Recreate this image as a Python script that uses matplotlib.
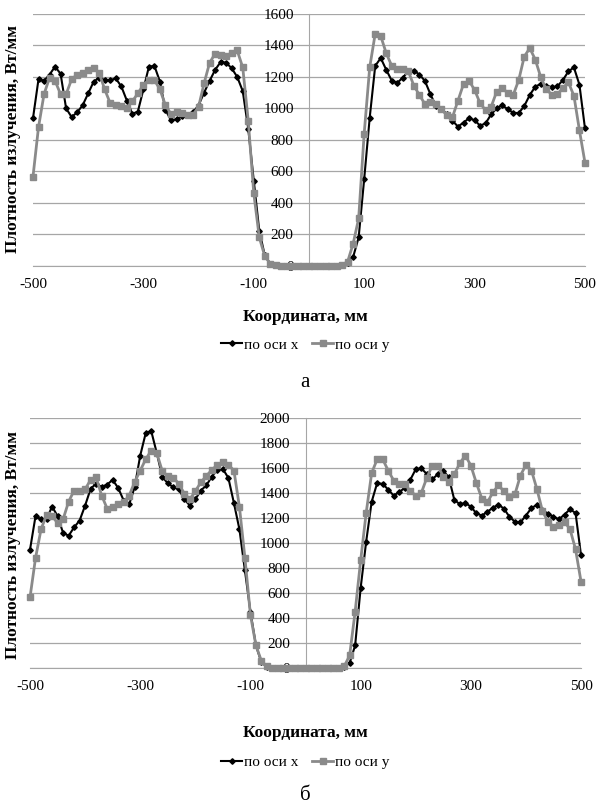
import matplotlib
matplotlib.use('Agg')
import matplotlib.pyplot as plt
from matplotlib.lines import Line2D

plt.rcParams['font.family'] = ['Liberation Serif', 'DejaVu Serif']

# coordinate, mm
coord = [-500, -490, -480, -470, -460, -450, -440, -430, -420, -410,
         -400, -390, -380, -370, -360, -350, -340, -330, -320, -310,
         -300, -290, -280, -270, -260, -250, -240, -230, -220, -210,
         -200, -190, -180, -170, -160, -150, -140, -130, -120, -110,
         -100, -90, -80, -70, -60, -50, -40, -30, -20, -10,
         0, 10, 20, 30, 40, 50, 60, 70, 80, 90,
         100, 110, 120, 130, 140, 150, 160, 170, 180, 190,
         200, 210, 220, 230, 240, 250, 260, 270, 280, 290,
         300, 310, 320, 330, 340, 350, 360, 370, 380, 390,
         400, 410, 420, 430, 440, 450, 460, 470, 480, 490,
         500]

# panel a
a_x = [937, 1185, 1175, 1215, 1265, 1220, 1000, 945, 975, 1020,
       1095, 1170, 1195, 1180, 1180, 1190, 1140, 1050, 965, 980,
       1120, 1265, 1270, 1170, 990, 925, 930, 950, 960, 975,
       1020, 1100, 1175, 1245, 1295, 1290, 1255, 1200, 1110, 870,
       540, 220, 65, 12, 3, 0, 0, 0, 0, 0,
       0, 0, 0, 0, 0, 0, 2, 14, 55, 180,
       550, 940, 1270, 1320, 1245, 1176, 1163, 1195, 1237, 1240,
       1215, 1175, 1090, 1015, 995, 964, 921, 884, 910, 937,
       925, 890, 905, 962, 1000, 1020, 995, 972, 970, 1015,
       1085, 1138, 1156, 1145, 1134, 1140, 1180, 1235, 1260, 1150,
       873]
a_y = [566, 880, 1090, 1195, 1175, 1090, 1090, 1185, 1215, 1227,
       1242, 1258, 1225, 1120, 1032, 1020, 1013, 1005, 1045, 1095,
       1150, 1180, 1180, 1120, 1020, 965, 975, 970, 958, 960,
       1010, 1160, 1290, 1348, 1339, 1335, 1352, 1368, 1260, 920,
       460, 180, 60, 12, 3, 0, 0, 0, 0, 0,
       0, 0, 0, 0, 0, 0, 5, 25, 140, 300,
       840, 1260, 1475, 1460, 1350, 1270, 1248, 1248, 1235, 1145,
       1085, 1028, 1040, 1025, 995, 955, 945, 1050, 1155, 1175,
       1118, 1032, 988, 1010, 1106, 1127, 1100, 1085, 1180, 1329,
       1383, 1310, 1197, 1120, 1088, 1090, 1130, 1165, 1080, 860,
       655]

# panel b
b_x = [948, 1215, 1190, 1190, 1292, 1215, 1081, 1058, 1125, 1180,
       1300, 1434, 1475, 1448, 1468, 1505, 1440, 1340, 1309, 1450,
       1700, 1880, 1895, 1720, 1530, 1477, 1447, 1430, 1350, 1300,
       1350, 1420, 1461, 1532, 1588, 1592, 1520, 1320, 1110, 780,
       450, 180, 45, 8, 0, 0, 0, 0, 0, 0,
       0, 0, 0, 0, 0, 0, 2, 10, 40, 180,
       640, 1010, 1330, 1480, 1472, 1428, 1379, 1408, 1440, 1505,
       1590, 1598, 1552, 1510, 1550, 1578, 1525, 1345, 1310, 1320,
       1290, 1238, 1219, 1250, 1282, 1307, 1275, 1210, 1170, 1165,
       1220, 1280, 1305, 1268, 1232, 1210, 1190, 1228, 1270, 1240,
       900]
b_y = [566, 880, 1110, 1225, 1215, 1160, 1190, 1330, 1420, 1418,
       1430, 1506, 1525, 1380, 1275, 1288, 1310, 1328, 1380, 1490,
       1580, 1670, 1740, 1720, 1575, 1535, 1522, 1475, 1395, 1350,
       1415, 1485, 1537, 1585, 1625, 1645, 1625, 1580, 1290, 880,
       425, 180, 55, 12, 2, 0, 0, 0, 0, 0,
       0, 0, 0, 0, 0, 0, 2, 12, 100, 450,
       860, 1240, 1560, 1670, 1670, 1580, 1500, 1476, 1474, 1416,
       1380, 1400, 1520, 1620, 1620, 1530, 1490, 1550, 1639, 1700,
       1620, 1480, 1355, 1325, 1405, 1461, 1415, 1368, 1390, 1540,
       1625, 1580, 1430, 1255, 1170, 1129, 1145, 1169, 1110, 950,
       690]

xticks = [-500, -300, -100, 100, 300, 500]
GRID = '#a6a6a6'
GREY = '#8a8a8a'


def panel(rect, sx, sy, ymax, lab_y, leg_y, cap_y, ylab_y, caption):
    ax = fig.add_axes(rect)
    ax.plot(coord, sx, color='black', lw=1.5, marker='D', ms=2.8,
            clip_on=False, zorder=3)
    ax.plot(coord, sy, color=GREY, lw=2, marker='s', ms=4.8,
            clip_on=False, zorder=4)
    ax.set_xlim(-500, 500)
    ax.set_ylim(0, ymax)
    ax.set_xticks(xticks)
    ax.set_xticklabels([str(v) for v in xticks])
    ax.set_yticks(range(0, ymax + 1, 200))
    ax.grid(axis='y', color=GRID, lw=0.9)
    ax.set_axisbelow(True)
    for s in ['top', 'right']:
        ax.spines[s].set_visible(False)
    ax.spines['left'].set_position(('data', 0))
    ax.spines['left'].set_color(GRID)
    ax.spines['bottom'].set_color(GRID)
    ax.tick_params(length=0, labelsize=11)
    ax.tick_params(axis='x', pad=9)
    ax.tick_params(axis='y', pad=11)
    fig.text(0.506, lab_y, 'Координата, мм', ha='center', va='center',
             fontsize=12.5, fontweight='bold')
    fig.text(0.021, ylab_y, 'Плотность излучения, Вт/мм', ha='center',
             va='center', rotation=90, fontsize=12.5, fontweight='bold')
    handles = [Line2D([], [], color='black', lw=1.5, marker='D', ms=2.8),
               Line2D([], [], color=GREY, lw=2, marker='s', ms=4.8)]
    fig.legend(handles, ['по оси x', 'по оси y'], loc='center',
               bbox_to_anchor=(0.506, leg_y), ncol=2, frameon=False,
               fontsize=11, handlelength=1.4, handletextpad=0.1,
               columnspacing=0.9)
    fig.text(0.506, cap_y, caption, ha='center', va='center', fontsize=15)
    return ax


fig = plt.figure(figsize=(6.03, 8.09), dpi=100)
panel([0.0547, 0.6716, 0.9154, 0.3111], a_x, a_y, 1600,
      0.608, 0.5736, 0.5266, 0.828, 'а')
panel([0.0498, 0.1743, 0.9138, 0.309], b_x, b_y, 2000,
      0.094, 0.058, 0.0173, 0.326, 'б')

fig.savefig('out.png', dpi=100)
